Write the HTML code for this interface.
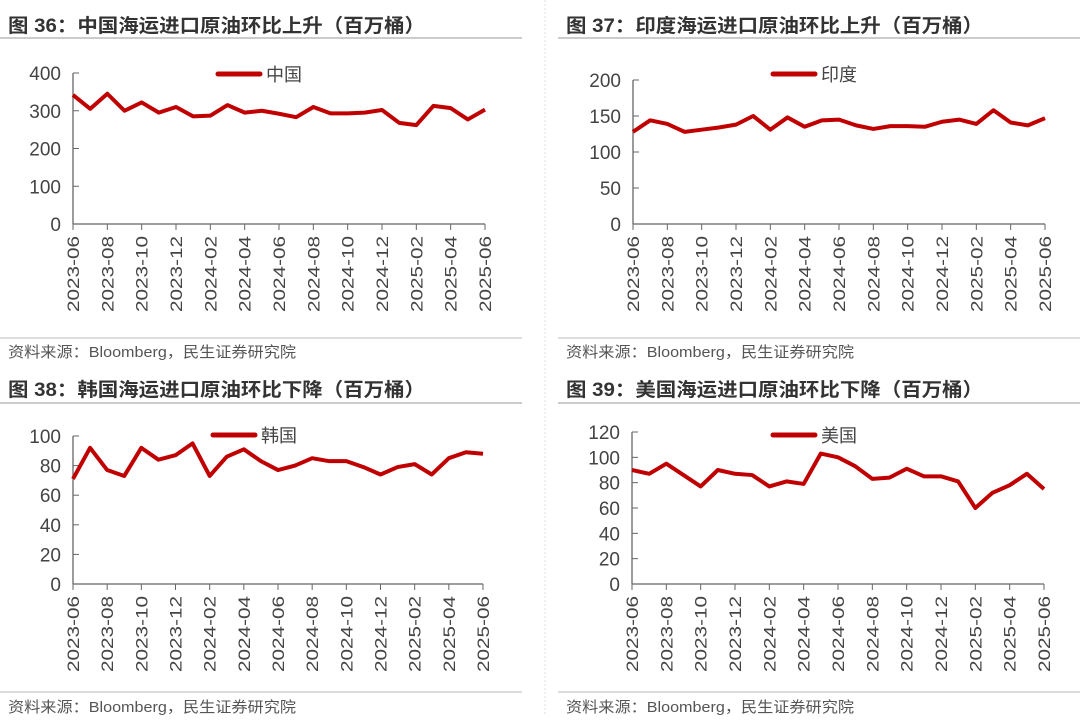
<!DOCTYPE html>
<html><head><meta charset="utf-8"><style>
body{margin:0;background:#fff;width:1080px;height:716px;overflow:hidden;font-family:"Liberation Sans","Noto Sans CJK SC",sans-serif}
</style></head><body>
<svg id="s" width="1080" height="716" xmlns="http://www.w3.org/2000/svg"></svg>
<script>
const months=[];for(let i=0;i<25;i++){const m=6+i,y=2023+Math.floor((m-1)/12),mm=((m-1)%12)+1;months.push(y+'-'+String(mm).padStart(2,'0'));}
const chinaVals=[342,305,345,300,322,295,310,285,287,315,295,300,292,283,310,293,293,295,302,268,262,313,307,277,303];
const indiaVals=[128,144,139,128,131,134,138,150,131,148,135,144,145,137,132,136,136,135,142,145,139,158,141,137,147];
const koreaVals=[71,92,77,73,92,84,87,95,73,86,91,83,77,80,85,83,83,79,74,79,81,74,85,89,88];
const usVals=[90,87,95,86,77,90,87,86,77,81,79,103,100,93,83,84,91,85,85,81,60,72,78,87,75];
const chinaTicks=[0,100,200,300,400],indiaTicks=[0,50,100,150,200],koreaTicks=[0,20,40,60,80,100],usTicks=[0,20,40,60,80,100,120];
const NS='http://www.w3.org/2000/svg',svg=document.getElementById('s');
function el(t,a,p){const e=document.createElementNS(NS,t);for(const k in a)e.setAttribute(k,a[k]);(p||svg).appendChild(e);return e;}
const panels=[
{title:'图 36：中国海运进口原油环比上升（百万桶）',name:'中国',vals:chinaVals,ticks:chinaTicks,px:0,ty:25,tl:38,x0:73,x1:485,yt:73,yb:224,fy:351,fl:338,ly:74,lx:218},
{title:'图 37：印度海运进口原油环比上升（百万桶）',name:'印度',vals:indiaVals,ticks:indiaTicks,px:558,ty:25,tl:38,x0:633,x1:1045,yt:80,yb:224,fy:351,fl:338,ly:74,lx:773},
{title:'图 38：韩国海运进口原油环比下降（百万桶）',name:'韩国',vals:koreaVals,ticks:koreaTicks,px:0,ty:389,tl:403,x0:73,x1:483,yt:436,yb:584,fy:706,fl:692,ly:435,lx:213},
{title:'图 39：美国海运进口原油环比下降（百万桶）',name:'美国',vals:usVals,ticks:usTicks,px:558,ty:389,tl:403,x0:632,x1:1044,yt:432,yb:584,fy:706,fl:692,ly:435,lx:773}];
el('line',{x1:545,y1:0,x2:545,y2:716,stroke:'#ddd','stroke-dasharray':'2,2'});
panels.forEach((p,pi)=>{
 const g=el('g',{});
 const t=el('text',{x:p.px+8,y:p.ty+7,'font-size':'19','font-weight':'bold',fill:'#333',textLength:417,lengthAdjust:'spacingAndGlyphs'},g);t.textContent=p.title;
 
 el('line',{x1:p.px,y1:p.tl,x2:p.px+522,y2:p.tl,stroke:'#999','stroke-width':1},g);
 el('line',{x1:p.px,y1:p.fl,x2:p.px+522,y2:p.fl,stroke:'#bbb','stroke-width':1},g);
 const f=el('text',{x:p.px+8,y:p.fy+6,'font-size':'15',fill:'#555',textLength:288,lengthAdjust:'spacingAndGlyphs'},g);f.textContent='资料来源：Bloomberg，民生证券研究院';
 
 const max=p.ticks[p.ticks.length-1];
 const X=i=>p.x0+(p.x1-p.x0)*i/(p.vals.length-1), Y=v=>p.yb-(p.yb-p.yt)*v/max;
 el('line',{x1:p.x0,y1:p.yt,x2:p.x0,y2:p.yb,stroke:'#666','stroke-width':1.3},g);
 el('line',{x1:p.x0,y1:p.yb,x2:p.x1,y2:p.yb,stroke:'#666','stroke-width':1.3},g);
 p.ticks.forEach(v=>{el('line',{x1:p.x0,y1:Y(v),x2:p.x0+6,y2:Y(v),stroke:'#666'},g);
  const tt=el('text',{x:p.x0-12,y:Y(v)+7,'font-size':'19','text-anchor':'end',fill:'#444'},g);tt.textContent=v;
  });
 months.forEach((m,i)=>{if(i%2)return;const x=X(i);
  el('line',{x1:x,y1:p.yb,x2:x,y2:p.yb+6,stroke:'#666'},g);
  const tt=el('text',{x:0,y:0,'font-size':'17','text-anchor':'end',fill:'#444',textLength:76,lengthAdjust:'spacingAndGlyphs',transform:`translate(${x+6},${p.yb+12}) rotate(-90)`},g);tt.textContent=m;
  });
 const pl=el('polyline',{points:p.vals.map((v,i)=>X(i)+','+Y(v)).join(' '),fill:'none',stroke:'#c00000','stroke-width':4,'stroke-linejoin':'round'},g);
 
 el('line',{x1:p.lx,y1:p.ly,x2:p.lx+42,y2:p.ly,stroke:'#c00000','stroke-width':5,'stroke-linecap':'round'},g);
 const lt=el('text',{x:p.lx+48,y:p.ly+7,'font-size':'18',fill:'#444'},g);lt.textContent=p.name;
 
});
</script>
</body></html>
